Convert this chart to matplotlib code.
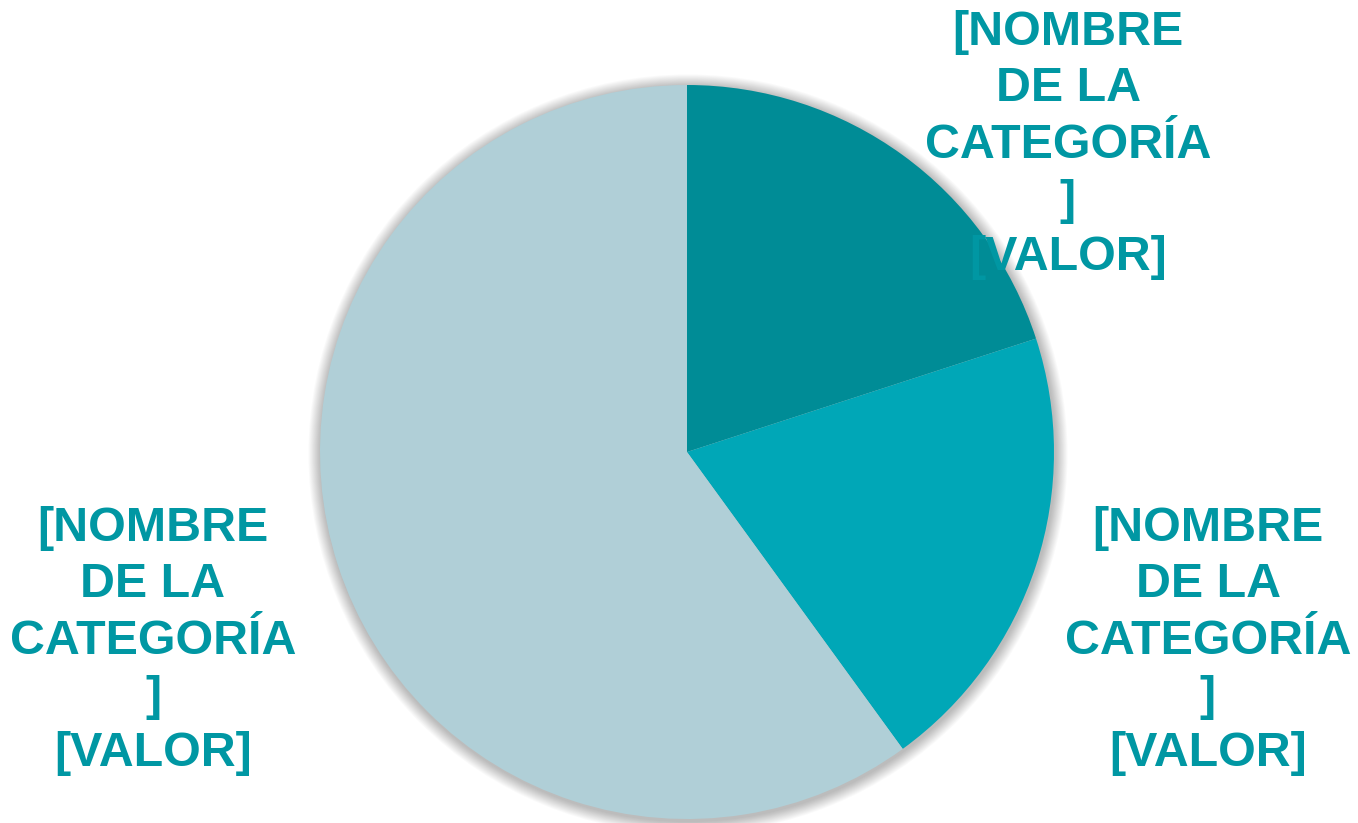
import matplotlib.pyplot as plt
from matplotlib.patches import Circle

# datos del gráfico
categories = ["[NOMBRE\nDE LA\nCATEGORÍA\n]\n[VALOR]"] * 3
values = [20, 20, 60]
colors = ["#008C96", "#00A7B7", "#B0CFD7"]
label_color = "#0097A3"

# posición de las etiquetas (px, origen arriba-izquierda)
label_pos = [(1068, 145), (1208, 641), (153, 641)]

W, H = 1358, 823
fig = plt.figure(figsize=(W / 100, H / 100), dpi=100)
ax = fig.add_axes([0, 0, 1, 1])
ax.set_xlim(0, W)
ax.set_ylim(0, H)
ax.axis("off")

cx, cy, r = 687, H - 452, 367

# sombra suave
for i in range(14, 0, -1):
    ax.add_patch(Circle((cx + 1, cy - 2), r + i * 0.9, color="black",
                        alpha=0.018, lw=0, zorder=0))

ax.pie(
    values,
    colors=colors,
    startangle=90,
    counterclock=False,
    center=(cx, cy),
    radius=r,
    frame=True,
    wedgeprops={"linewidth": 0},
)
ax.set_xlim(0, W)
ax.set_ylim(0, H)
ax.axis("off")

for text, (x, y) in zip(categories, label_pos):
    ax.text(
        x, H - y, text,
        ha="center", va="center",
        color=label_color,
        fontsize=34.8,
        fontweight="bold",
        family=["Liberation Sans", "DejaVu Sans"],
        linespacing=1.32,
        zorder=5,
    )

fig.savefig("out.png", dpi=100)
